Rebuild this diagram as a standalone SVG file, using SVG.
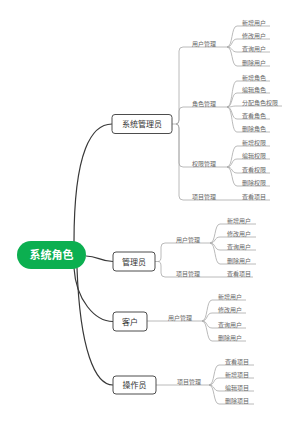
<svg xmlns="http://www.w3.org/2000/svg" width="300" height="423" viewBox="0 0 300 423">
<style>
text{font-family:"Noto Sans CJK SC","Noto Sans",sans-serif}
.nb{fill:#fff;stroke:#4d4d4d;stroke-width:1}
.nt{font-size:8px;fill:#333;text-anchor:middle}
.rt{font-size:11px;font-weight:bold;fill:#fff;text-anchor:middle}
.lt{font-size:6px;fill:#666}
.br{fill:none;stroke:#a8a8a8;stroke-width:0.8}
.mc{fill:none;stroke:#383838;stroke-width:1.2}
</style>
<rect width="300" height="423" fill="#fff"/>
<g id="connectors">
<path class="mc" d="M74,242 C74,150 92,124 112,124"/>
<path class="mc" d="M86,256 C98,256 100,261.5 113,261.5"/>
<path class="mc" d="M74,268 C76,300 95,321.5 113,321.5"/>
<path class="mc" d="M77,268 C80,350 95,385 113,385"/>
<!-- 系统管理员 branches -->
<path class="br" d="M172,124 H176 Q179,124 179,120 V51 Q179,47 183,47 H227"/>
<path class="br" d="M176,124 Q179,124 179,120 V111 Q179,107 183,107 H227"/>
<path class="br" d="M176,124 Q179,124 179,128 V163 Q179,167 183,167 H227"/>
<path class="br" d="M176,124 Q179,124 179,128 V196 Q179,200 183,200 H270"/>
<path class="br" d="M227,47 C233,47 231,26 237,26 H270 M227,47 C233,47 231,39 237,39 H270 M227,47 C233,47 231,52 237,52 H270 M227,47 C233,47 231,66 237,66 H270"/>
<path class="br" d="M227,107 C233,107 231,81 237,81 H270 M227,107 C233,107 231,93 237,93 H270 M227,107 C233,107 231,106 237,106 H282 M227,107 C233,107 231,119 237,119 H270 M227,107 C233,107 231,132 237,132 H270"/>
<path class="br" d="M227,167 C233,167 231,146 237,146 H270 M227,167 C233,167 231,159 237,159 H270 M227,167 C233,167 231,173 237,173 H270 M227,167 C233,167 231,186 237,186 H270"/>
<!-- 管理员 branches -->
<path class="br" d="M155,261.5 H158 Q161,261.5 161,257 V247 Q161,243 165,243 H210"/>
<path class="br" d="M158,261.5 Q161,261.5 161,266 V273 Q161,277 165,277 H253"/>
<path class="br" d="M210,243 C216,243 214,224 220,224 H256 M210,243 C216,243 214,237 220,237 H256 M210,243 C216,243 214,250 220,250 H256 M210,243 C216,243 214,264 220,264 H256"/>
<!-- 客户 branches -->
<path class="br" d="M147,321 H202"/>
<path class="br" d="M202,321 C208,321 206,300 212,300 H246 M202,321 C208,321 206,313 212,313 H246 M202,321 C208,321 206,328 212,328 H246 M202,321 C208,321 206,341 212,341 H246"/>
<!-- 操作员 branches -->
<path class="br" d="M156,385 H209"/>
<path class="br" d="M209,385 C215,385 213,365 219,365 H254 M209,385 C215,385 213,378 219,378 H254 M209,385 C215,385 213,391 219,391 H254 M209,385 C215,385 213,404 219,404 H254"/>
</g>
<g id="root">
<rect x="17" y="241" width="69" height="28" rx="14" fill="#0caf50"/>
<text class="rt" x="51.5" y="259">系统角色</text>
</g>
<g id="sysadmin">
<rect class="nb" x="112" y="114.5" width="60" height="19" rx="3"/>
<text class="nt" x="142" y="127">系统管理员</text>
</g>
<g id="sysadmin-children">
<text class="lt" x="192" y="45.7">用户管理</text>
<text class="lt" x="192" y="105.7">角色管理</text>
<text class="lt" x="192" y="165.7">权限管理</text>
<text class="lt" x="192" y="198.7">项目管理</text>
<text class="lt" x="242" y="24.7">新增用户</text>
<text class="lt" x="242" y="37.7">修改用户</text>
<text class="lt" x="242" y="50.7">查询用户</text>
<text class="lt" x="242" y="64.7">删除用户</text>
<text class="lt" x="242" y="79.7">新增角色</text>
<text class="lt" x="242" y="91.7">编辑角色</text>
<text class="lt" x="242" y="104.7">分配角色权限</text>
<text class="lt" x="242" y="117.7">查看角色</text>
<text class="lt" x="242" y="130.7">删除角色</text>
<text class="lt" x="242" y="144.7">新增权限</text>
<text class="lt" x="242" y="157.7">编辑权限</text>
<text class="lt" x="242" y="171.7">查看权限</text>
<text class="lt" x="242" y="184.7">删除权限</text>
<text class="lt" x="242" y="198.7">查看项目</text>
</g>
<g id="admin">
<rect class="nb" x="113" y="252" width="42" height="19" rx="3"/>
<text class="nt" x="134" y="264.5">管理员</text>
</g>
<g id="admin-children">
<text class="lt" x="176" y="241.7">用户管理</text>
<text class="lt" x="176" y="275.7">项目管理</text>
<text class="lt" x="227" y="222.7">新增用户</text>
<text class="lt" x="227" y="235.7">修改用户</text>
<text class="lt" x="227" y="248.7">查询用户</text>
<text class="lt" x="227" y="262.7">删除用户</text>
<text class="lt" x="227" y="275.7">查看项目</text>
</g>
<g id="customer">
<rect class="nb" x="113" y="312" width="34" height="19" rx="3"/>
<text class="nt" x="130" y="324.5">客户</text>
</g>
<g id="customer-children">
<text class="lt" x="168" y="319.7">用户管理</text>
<text class="lt" x="218" y="298.7">新增用户</text>
<text class="lt" x="218" y="311.7">修改用户</text>
<text class="lt" x="218" y="326.7">查询用户</text>
<text class="lt" x="218" y="339.7">删除用户</text>
</g>
<g id="operator">
<rect class="nb" x="113" y="376" width="43" height="18" rx="3"/>
<text class="nt" x="134.5" y="388">操作员</text>
</g>
<g id="operator-children">
<text class="lt" x="177" y="383.7">项目管理</text>
<text class="lt" x="225" y="363.7">查看项目</text>
<text class="lt" x="225" y="376.7">新增项目</text>
<text class="lt" x="225" y="389.7">编辑项目</text>
<text class="lt" x="225" y="402.7">删除项目</text>
</g>
</svg>
